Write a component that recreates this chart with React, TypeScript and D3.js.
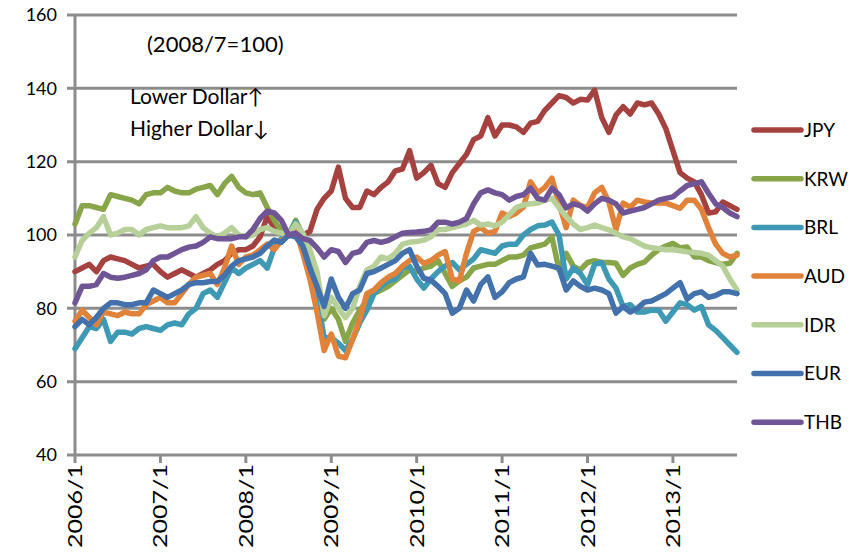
import React from "react";
import * as d3 from "d3";

const W = 854;
const H = 555;

const startYear = 2006;
const monthCount = 94; // 2006/1 .. 2013/10
const categories: string[] = [];
for (let k = 0; k < monthCount; k++) {
  categories.push(`${startYear + Math.floor(k / 12)}/${(k % 12) + 1}`);
}

const tickLabels = ["2006/1", "2007/1", "2008/1", "2009/1", "2010/1", "2011/1", "2012/1", "2013/1"];
const yTicks = [40, 60, 80, 100, 120, 140, 160];

const JPY = [90,91,92,90,93,94,93.5,93,92,91,
  91.5,92,90,88.5,89.5,90.5,89.5,88.5,89.5,90.5,
  92,93,95,96,96,97,99.5,105,102,101,
  100,100.5,100,101,107,110,112,118.5,110,107.5,
  107.5,112,111,113,114.5,117.5,118,123,115.5,117,
  119,114,113,117,119.5,122,126,127,132,127,
  130,130,129.5,128,130.5,131,134,136,138,137.5,
  136,137,136.8,139.5,132,128,132.7,135,133,136,
  135.5,136,133,129,123,117,115.5,114.5,111,106,
  106.3,109,108,107];

const KRW = [103,108,108,107.5,107,111,110.5,110,109.5,108.5,
  111,111.5,111.5,113,112,111.5,111.5,112.5,113,113.5,
  111,114,116,113,111.5,111,111.5,107.5,104,101,
  100,104,100,93,85,77,80,77,71,76,
  79.5,82,84,85,86,87.5,89,90.5,90,91,
  91.5,93,89.5,86,87.5,88.5,91,91.5,92,92,
  93,94,94,94.5,96.5,97,97.5,99.5,90.5,95,
  91.5,90.5,92.5,93,92.5,92.5,92.3,89,91,92,
  92.6,94.5,96,97,97.7,96.5,96.7,94,94,93,
  92.5,92,92.3,95];

const BRL = [69,72,75,74.5,77,71,73.5,73.5,73,74.5,
  75,74.5,74,75.5,76,75.5,78.5,80,84,85,
  83,87,91,89.5,91,92,93,91,96.5,99,
  100,103.5,99,91.5,83,72,72,70.5,68.5,71.5,
  76,79.5,84,86,87.5,88,91,91.5,88,85.5,
  88,90,91.5,92.5,90.5,92,93.5,96,95.5,95,
  97,97.5,97.5,100,101.5,102.5,102.7,103.5,100,88,
  91,89.5,86.5,92,92.5,88,85.5,80.5,81,79,
  79,79.5,79.5,76.5,79,81.5,81,79.5,80.5,75.5,
  74,72,70,68];

const AUD = [76.5,79.5,77.5,75.5,79,78.5,78,79,78.5,78.5,
  81,82,83,81.5,81.5,84,86.5,88.5,89,89.5,
  86.5,91,97,92,94,94.5,96,97.5,96,98.5,
  100,101.5,95,88,79,68.5,73,67,66.5,71.5,
  77,84,85,87,88.5,89.5,91.5,93,94,92.3,
  93,94.5,95.5,88,87.5,95,101,102,100.5,101,
  106,105,106,107.6,114.5,111.5,113,115.5,108.5,102,
  109.5,108,107.5,111.5,113,109,101.5,108.7,107.6,109.5,
  109,108.7,108.7,108.7,108,107.3,109.5,109.5,107,102,
  97.5,95,94,94.5];

const IDR = [94,98.5,100.5,102,105,100,100.5,101.5,101.5,100,
  101.5,102,102.5,102,102,102,102.5,105,102,100.5,
  99.5,100.5,102,100,99.5,100,101.5,102,101,100.5,
  100,103,100.5,96,90,78,83,80,77.5,80,
  86,90.5,91.5,94,93.5,95,97.5,98,98.2,98.6,
  99.5,101.5,101.5,102,102.5,103,104,102.7,103,102.5,
  103.5,105.5,107.5,108.2,108.5,108.7,109.5,110,107.5,105,
  103,101.5,102,102.7,102,101.4,100.5,99.5,99,98,
  97,96.5,96.3,96,96,95.7,95.4,95.2,95,94.5,
  93,91.5,88,85];

const EUR = [75,77,75.5,77.5,80,81.5,81.5,81,81,81.5,
  81.5,85,84,83,84,85,86.5,87,87,87.3,
  87.3,89,91.5,93,93.5,94,95,97,98.6,98,
  100,99.5,97,91,86,80.5,88,83,80,84,
  85,89.5,90,91,92,93,95,96,91.5,88.2,
  87.7,86,84,78.7,80,85,82,86.5,88.6,83,
  84.5,87,88,88.6,95,91.8,92,91.5,90.9,85,
  87.5,86,85,85.5,85,84,78.7,80.5,79,80,
  81.7,82,83,84,85.5,87,82.5,84,84.5,83,
  83.5,84.5,84.5,84];

const THB = [81.5,86,86,86.5,89.5,88.5,88.2,88.5,89,89.5,
  90.5,93,94,94,95,96,96.7,97,98,99.5,
  99,99,99,99.5,99.5,101.5,104.5,106.5,106,104,
  100,100.5,99,98.5,96.5,94,96,95.5,92.5,95,
  95.5,98,98.5,98,98.5,99.5,100.5,100.7,100.8,101,
  101.4,103.5,103.5,103,103.5,104.5,108.5,111.5,112.3,111.5,
  111,109.5,110.5,111,112.8,110,109.5,112.8,111,107.4,
  108.5,108,106.5,108.5,110,109.5,108.5,106,106.5,107,
  107.5,108.5,109.5,110,110.4,112,113.5,114,114.5,111.4,
  108.5,107.5,106,105];

const seriesNames = ["JPY", "KRW", "BRL", "AUD", "IDR", "EUR", "THB"];
const seriesValues = [JPY, KRW, BRL, AUD, IDR, EUR, THB];
const seriesColors = ["#a5413f", "#88a54a", "#3d99b4", "#e0823a", "#b7cf98", "#4371ab", "#6f5595"];

const FONT = "Lato, 'Open Sans', sans-serif";

export default function App() {
  const left = 75, right = 737, top = 15, bottom = 455;
  const x = d3.scalePoint<string>().domain(categories).range([left, right]);
  const y = d3.scaleLinear().domain([40, 160]).range([bottom, top]);
  const line = d3
    .line<number>()
    .x((_, i) => x(categories[i]) as number)
    .y((d) => y(d));

  const gridColor = "#8c8c8c";

  return (
    <svg width={W} height={H} style={{ position: "absolute", left: 0, top: 0, background: "#fff" }}>
      <rect x={0} y={0} width={W} height={H} fill="#fff" />
      {/* gridlines */}
      {yTicks.map((t) => (
        <g key={t}>
          <line x1={left - 8} x2={right} y1={y(t)} y2={y(t)} stroke={gridColor} strokeWidth={3} />
          <text x={57} y={y(t)} dy="0.35em" textAnchor="end" fontFamily={FONT} fontSize={18} fill="#000">
            {t}
          </text>
        </g>
      ))}
      {/* y axis */}
      <line x1={left} x2={left} y1={top} y2={bottom} stroke={gridColor} strokeWidth={3} />
      {/* x ticks and labels */}
      {tickLabels.map((lab) => {
        const xx = x(lab) as number;
        return (
          <g key={lab}>
            <line x1={xx} x2={xx} y1={bottom} y2={bottom + 8} stroke={gridColor} strokeWidth={3} />
            <text
              transform={`translate(${xx + 7},${bottom + 9}) rotate(-90)`}
              textAnchor="end"
              fontFamily={FONT}
              fontSize={19}
              fill="#000"
              textLength={84}
              lengthAdjust="spacingAndGlyphs"
            >
              {lab}
            </text>
          </g>
        );
      })}
      {/* series */}
      {seriesValues.map((vals, si) => (
        <path
          key={seriesNames[si]}
          d={line(vals) as string}
          fill="none"
          stroke={seriesColors[si]}
          strokeWidth={5.5}
          strokeLinejoin="round"
          strokeLinecap="round"
        />
      ))}
      {/* annotations */}
      <text x={147} y={52} fontFamily={FONT} fontSize={22} fill="#000">(2008/7=100)</text>
      <text x={130} y={104} fontFamily={FONT} fontSize={21} fill="#000">Lower Dollar↑</text>
      <text x={130} y={136} fontFamily={FONT} fontSize={21} fill="#000">Higher Dollar↓</text>
      {/* legend */}
      {seriesNames.map((n, i) => {
        const ly = 130 + i * 48.7;
        return (
          <g key={n}>
            <line x1={754} x2={801} y1={ly} y2={ly} stroke={seriesColors[i]} strokeWidth={5.5} strokeLinecap="round" />
            <text x={804} y={ly} dy="0.36em" fontFamily={FONT} fontSize={19} fill="#000">
              {n}
            </text>
          </g>
        );
      })}
    </svg>
  );
}
